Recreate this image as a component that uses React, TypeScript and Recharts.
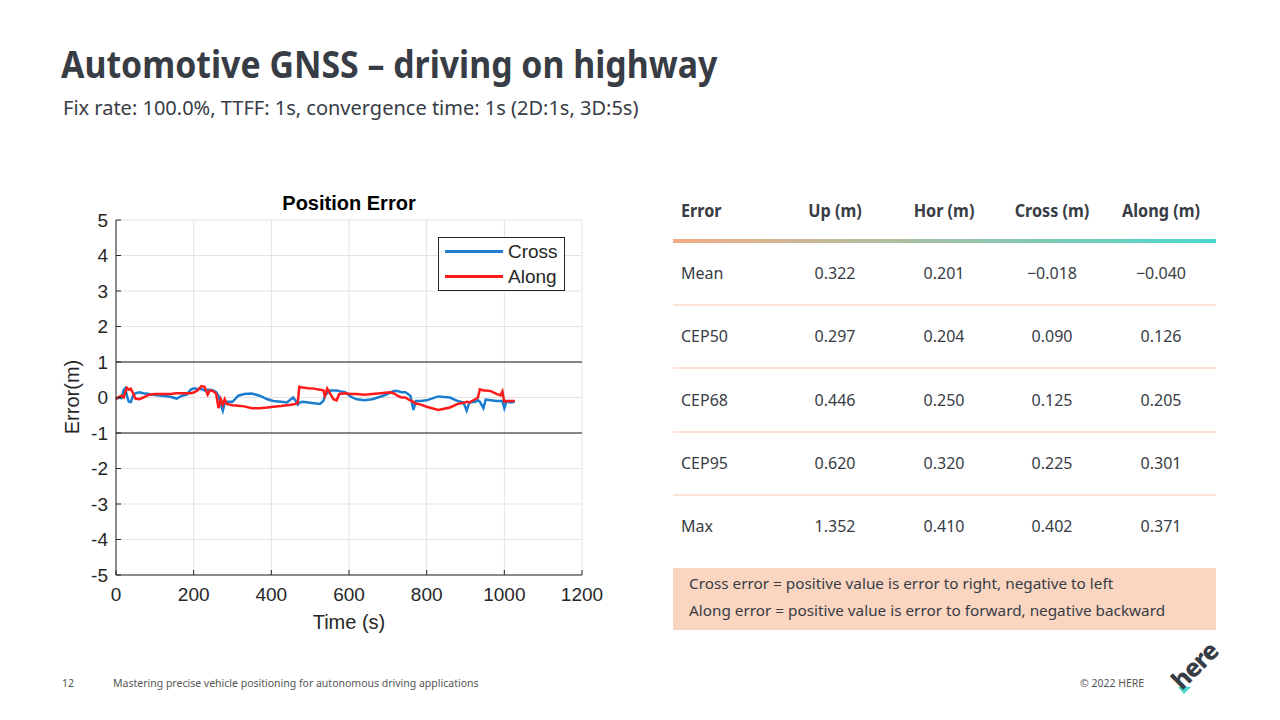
import { LineChart, Line, XAxis, YAxis, CartesianGrid, ReferenceLine, Legend } from 'recharts';

const timeS = [
  0, 8, 14, 20, 24, 28, 33, 38, 44, 50, 60, 70, 85, 100, 120, 140, 156, 170, 182, 192,
  200, 210, 220, 228, 236, 242, 250, 258, 264, 270, 275, 280, 285, 300, 315, 330, 350, 370, 390, 405,
  425, 440, 456, 462, 468, 472, 480, 495, 510, 525, 534, 538, 544, 552, 560, 568, 575, 590, 605, 620,
  640, 660, 688, 705, 715, 725, 735, 745, 752, 758, 766, 772, 785, 800, 830, 860, 880, 895, 903, 910,
  925, 932, 937, 946, 952, 965, 980, 990, 995, 1000, 1006, 1015, 1027,
];
const crossErr = [
  -0.04, 0.0, -0.02, 0.22, 0.26, 0.05, -0.12, -0.13, 0.05, 0.12, 0.15, 0.12, 0.1, 0.07, 0.05, 0.02, -0.03, 0.05, 0.08, 0.22,
  0.26, 0.24, 0.24, 0.2, 0.22, 0.22, 0.2, 0.15, 0.05, -0.2, -0.37, -0.15, -0.12, -0.12, 0.05, 0.1, 0.11, 0.05, -0.05, -0.1,
  -0.12, -0.14, 0.0, -0.08, -0.2, -0.15, -0.12, -0.14, -0.16, -0.18, -0.1, 0.05, 0.12, 0.2, 0.2, 0.2, 0.18, 0.15, 0.02, -0.05,
  -0.08, -0.05, 0.05, 0.13, 0.18, 0.18, 0.15, 0.15, 0.1, 0.05, -0.35, -0.1, -0.1, -0.08, 0.03, 0.0, -0.1, -0.14, -0.37, -0.14,
  -0.12, -0.08, -0.12, -0.3, -0.06, -0.08, -0.1, -0.1, -0.1, -0.3, -0.1, -0.14, -0.12,
];
const alongErr = [
  -0.04, 0.02, 0.05, 0.0, 0.15, 0.27, 0.22, 0.25, 0.12, -0.03, -0.05, 0.0, 0.08, 0.1, 0.1, 0.1, 0.12, 0.12, 0.12, 0.12,
  0.14, 0.2, 0.32, 0.3, 0.08, 0.2, 0.18, 0.1, -0.3, -0.05, -0.2, -0.05, -0.18, -0.22, -0.23, -0.25, -0.3, -0.3, -0.28, -0.26,
  -0.24, -0.22, -0.2, -0.18, -0.15, 0.3, 0.28, 0.26, 0.25, 0.22, 0.2, 0.05, 0.25, 0.1, -0.05, -0.08, 0.1, 0.12, 0.1, 0.1,
  0.08, 0.1, 0.13, 0.15, 0.12, 0.05, 0.0, 0.0, -0.05, -0.08, -0.12, -0.17, -0.2, -0.26, -0.35, -0.28, -0.18, -0.15, -0.12, -0.14,
  -0.05, 0.0, 0.23, 0.2, 0.2, 0.18, 0.1, 0.06, 0.17, -0.12, -0.1, -0.1, -0.1,
];
const seriesNames = ['Cross', 'Along'];
const xTicks = [0, 200, 400, 600, 800, 1000, 1200];
const yTicks = [-5, -4, -3, -2, -1, 0, 1, 2, 3, 4, 5];

const tableHeaders = ['Error', 'Up (m)', 'Hor (m)', 'Cross (m)', 'Along (m)'];
const statNames = ['Mean', 'CEP50', 'CEP68', 'CEP95', 'Max'];
const upM = ['0.322', '0.297', '0.446', '0.620', '1.352'];
const horM = ['0.201', '0.204', '0.250', '0.320', '0.410'];
const crossM = ['\u22120.018', '0.090', '0.125', '0.225', '0.402'];
const alongM = ['\u22120.040', '0.126', '0.205', '0.301', '0.371'];
const notes = [
  'Cross error = positive value is error to right, negative to left',
  'Along error = positive value is error to forward, negative backward',
];

const data = timeS.map((t, i) => ({ t, cross: crossErr[i], along: alongErr[i] }));

const ink = '#383c45';
const axisInk = '#262626';
const slideFont = '"Noto Sans", "Open Sans", sans-serif';
const plotFont = '"Liberation Sans", Arial, sans-serif';

function PlotLegend({ payload }: any) {
  // keep MATLAB's order: Cross then Along
  const items = [...(payload || [])].sort((a: any, b: any) => seriesNames.indexOf(a.value) - seriesNames.indexOf(b.value));
  return (
    <div
      style={{
        width: 125,
        height: 52,
        border: `1px solid ${axisInk}`,
        background: '#fff',
        fontFamily: plotFont,
        fontSize: 19,
        color: axisInk,
        display: 'flex',
        flexDirection: 'column',
        justifyContent: 'center',
      }}
    >
      {items.map((p: any) => (
        <div key={p.value} style={{ display: 'flex', alignItems: 'center', height: 25 }}>
          <span style={{ display: 'inline-block', width: 58, height: 2.5, background: p.color, marginLeft: 6, marginRight: 5 }} />
          <span>{p.value}</span>
        </div>
      ))}
    </div>
  );
}

export default function App() {
  const colCenters = [0, 162, 271, 379, 488];
  const cols = [statNames, upM, horM, crossM, alongM];
  return (
    <div style={{ position: 'absolute', left: 0, top: 0, width: 1280, height: 720, background: '#fff', overflow: 'hidden', color: ink }}>
      <div
        style={{
          position: 'absolute', left: 61, top: 38, fontFamily: slideFont, fontWeight: 700, fontSize: 38,
          lineHeight: '50px', whiteSpace: 'nowrap', transform: 'scaleX(0.89)', transformOrigin: 'left center',
        }}
      >
        Automotive GNSS – driving on highway
      </div>
      <div
        style={{
          position: 'absolute', left: 63, top: 93, fontFamily: slideFont, fontSize: 20, lineHeight: '30px',
          whiteSpace: 'nowrap',
        }}
      >
        Fix rate: 100.0%, TTFF: 1s, convergence time: 1s (2D:1s, 3D:5s)
      </div>

      {/* plot */}
      <div style={{ position: 'absolute', left: 40, top: 180, width: 570, height: 470 }}>
        <LineChart width={570} height={470} data={data} margin={{ top: 40, right: 28, left: 0, bottom: 0 }}>
          <CartesianGrid stroke="#e3e3e3" strokeWidth={1} />
          <XAxis
            dataKey="t" type="number" domain={[0, 1200]} ticks={xTicks} height={75}
            stroke={axisInk} tickSize={-5} tickMargin={18}
            tick={{ fill: axisInk, fontSize: 19, fontFamily: plotFont }}
          />
          <XAxis xAxisId="top" orientation="top" dataKey="t" type="number" domain={[0, 1200]} ticks={xTicks}
            height={0} stroke={axisInk} tickSize={-5} tick={false} />
          <YAxis
            type="number" domain={[-5, 5]} ticks={yTicks} width={76}
            stroke={axisInk} tickSize={-5} tickMargin={13}
            tick={{ fill: axisInk, fontSize: 19, fontFamily: plotFont }}
          />
          <YAxis yAxisId="right" orientation="right" type="number" domain={[-5, 5]} ticks={yTicks}
            width={0} stroke={axisInk} tickSize={-5} tick={false} />
          <ReferenceLine y={1} stroke="#1a1a1a" strokeWidth={1} />
          <ReferenceLine y={-1} stroke="#1a1a1a" strokeWidth={1} />
          <Line dataKey="cross" name="Cross" stroke="#1a7dcf" strokeWidth={2.5} dot={false} isAnimationActive={false} />
          <Line dataKey="along" name="Along" stroke="#ff1a1a" strokeWidth={2.5} dot={false} isAnimationActive={false} />
          <Legend
            layout="vertical" align="center" verticalAlign="middle"
            wrapperStyle={{ left: 398, top: 57, width: 127 }}
            content={<PlotLegend />}
          />
        </LineChart>
      </div>
      <div style={{ position: 'absolute', left: 249, top: 192, width: 200, textAlign: 'center', fontFamily: plotFont, fontWeight: 700, fontSize: 20, color: '#000' }}>
        Position Error
      </div>
      <div style={{ position: 'absolute', left: 249, top: 611, width: 200, textAlign: 'center', fontFamily: plotFont, fontSize: 20, color: axisInk }}>
        Time (s)
      </div>
      <div
        style={{
          position: 'absolute', left: 72, top: 397, fontFamily: plotFont, fontSize: 20, color: axisInk,
          transform: 'translate(-50%, -50%) rotate(-90deg)', whiteSpace: 'nowrap',
        }}
      >
        Error(m)
      </div>

      {/* table */}
      <div style={{ position: 'absolute', left: 673, top: 180, width: 543, fontFamily: slideFont }}>
        {tableHeaders.map((h, i) => (
          <div
            key={h}
            style={{
              position: 'absolute', top: 18, fontWeight: 700, fontSize: 18, whiteSpace: 'nowrap',
              left: i === 0 ? 8 : colCenters[i], transform: i === 0 ? 'scaleX(0.9)' : 'translateX(-50%) scaleX(0.9)',
              transformOrigin: i === 0 ? 'left center' : 'center',
            }}
          >
            {h}
          </div>
        ))}
        <div style={{ position: 'absolute', left: 0, top: 59, width: 543, height: 4, background: 'linear-gradient(90deg, #f4ac84, #48d8cc)' }} />
        {statNames.map((_, r) => (
          <div key={r}>
            {cols.map((col, c) => (
              <div
                key={c}
                style={{
                  position: 'absolute', top: 82 + r * 63.3, fontSize: 16, whiteSpace: 'nowrap',
                  left: c === 0 ? 8 : colCenters[c], transform: c === 0 ? 'none' : 'translateX(-50%)',
                }}
              >
                {col[r]}
              </div>
            ))}
            {r < 4 && <div style={{ position: 'absolute', left: 0, top: 124 + r * 63.3, width: 543, height: 2, background: '#fbe3d6' }} />}
          </div>
        ))}
        <div style={{ position: 'absolute', left: 0, top: 388, width: 543, height: 62, background: '#fad6c1' }}>
          {notes.map((n, i) => (
            <div key={i} style={{ position: 'absolute', left: 16, top: 5 + i * 27, fontSize: 15.3, whiteSpace: 'nowrap' }}>
              {n}
            </div>
          ))}
        </div>
      </div>

      {/* footer */}
      <div style={{ position: 'absolute', left: 62, top: 676, fontFamily: slideFont, fontSize: 10.5, color: '#555' }}>12</div>
      <div style={{ position: 'absolute', left: 113, top: 676, fontFamily: slideFont, fontSize: 10.5, color: '#555' }}>
        Mastering precise vehicle positioning for autonomous driving applications
      </div>
      <div style={{ position: 'absolute', left: 1080, top: 676, fontFamily: slideFont, fontSize: 10.5, color: '#555' }}>© 2022 HERE</div>
      <svg style={{ position: 'absolute', left: 1150, top: 610, overflow: 'visible' }} width={110} height={100}>
        <polygon points="28,77 41,77 34,84" fill="#48d8cc" />
        <text x={32} y={81} transform="rotate(-45 32 81)" fontFamily={slideFont} fontWeight={800} fontSize={25}
          letterSpacing={-1} fill={ink}>
          here
        </text>
      </svg>
    </div>
  );
}
